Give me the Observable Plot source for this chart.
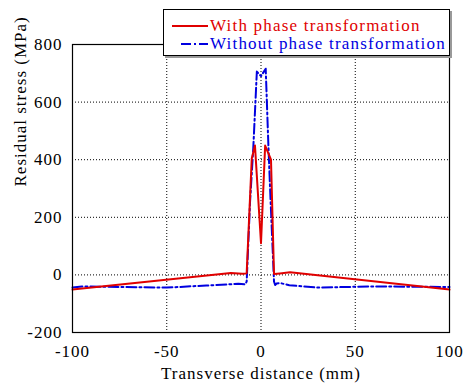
<!DOCTYPE html>
<html>
<head>
<meta charset="utf-8">
<script src="https://cdn.jsdelivr.net/npm/d3@7"></script>
<script src="https://cdn.jsdelivr.net/npm/@observablehq/plot@0.6"></script>
<style>
body { margin: 0; background: #fff; }
#wrap { position: relative; width: 464px; height: 383px; }
#wrap, #wrap * { font-family: "Liberation Serif", serif; }
#chart text { letter-spacing: 1px; }
#chart g[aria-label="xlabel"] text { letter-spacing: 0.9px; }
#chart g[aria-label="ylabel"] text { letter-spacing: 0.2px; }
#legend { position: absolute; left: 163px; top: 9px; width: 287px; height: 47px; background: #fff; border: 1px solid #000; box-shadow: 2px 2px 0 #999; box-sizing: border-box; }
#legend .row { position: absolute; left: 0; height: 20px; font-size: 17px; letter-spacing: 1.2px; white-space: nowrap; }
#legend svg { position: absolute; left: 6px; top: 0; }
#legend span { position: absolute; left: 46px; top: 0; line-height: 20px; }
</style>
</head>
<body>
<div id="wrap">
<div id="chart"></div>
<div id="legend">
  <div class="row" style="top:6px"><svg width="40" height="20"><line x1="2" x2="38" y1="10" y2="10" stroke="#e00000" stroke-width="2"/></svg><span style="color:#e00000">With phase transformation</span></div>
  <div class="row" style="top:24px"><svg width="40" height="20"><line x1="11" x2="38" y1="10" y2="10" stroke="#0000e0" stroke-width="2" stroke-dasharray="10,3,2,3"/></svg><span style="color:#0000e0">Without phase transformation</span></div>
</div>
</div>
<script>
const xTicks = [-100, -50, 0, 50, 100];
const yTicks = [-200, 0, 200, 400, 600, 800];
const gridX = [-50, 0, 50];
const gridY = [0, 200, 400, 600];

const withX = [-100, -16, -10, -8, -7.6, -4.9, -3.2, 0, 2.2, 5.3, 6.9, 10, 15.4, 100];
const withY = [-51, 7, 4, 5, 6, 404, 449, 110, 449, 400, 3, 5, 9, -51];

const withoutX = [-100, -95, -50, -29, -12, -8.5, -7.6, -5.8, -4.1, -2.2, 0, 2.5, 3.9, 5.1, 6.9, 7.5, 8.3, 10, 15, 30, 60, 100];
const withoutY = [-44, -40, -44, -37, -31, -33, -23, 255, 440, 706, 690, 716, 453, 255, -23, -35, -30, -28, -36, -44, -40, -42];

const withData = withX.map((x, i) => ({x, y: withY[i]}));
const withoutData = withoutX.map((x, i) => ({x, y: withoutY[i]}));

const FONT = "Liberation Serif";
const fmt = d => String(d);

const chart = Plot.plot({
  width: 464,
  height: 383,
  marginLeft: 72,
  marginRight: 15,
  marginTop: 44,
  marginBottom: 51,
  style: { fontFamily: FONT, fontSize: "17px", color: "#000", background: "#fff" },
  x: { domain: [-100, 100] },
  y: { domain: [-200, 800] },
  marks: [
    Plot.ruleX(gridX, { stroke: "#000", strokeDasharray: "1,2", strokeWidth: 1 }),
    Plot.ruleY(gridY, { stroke: "#000", strokeDasharray: "1,2", strokeWidth: 1 }),
    Plot.line(withoutData, { x: "x", y: "y", stroke: "#0000e0", strokeWidth: 2, strokeDasharray: "10,3,2,3" }),
    Plot.line(withData, { x: "x", y: "y", stroke: "#e00000", strokeWidth: 2 }),
    Plot.frame({ stroke: "#000", strokeWidth: 1.2 }),
    Plot.axisX({ ticks: xTicks, tickFormat: fmt, tickSize: 0, tickPadding: 12, label: null, fontSize: 17 }),
    Plot.axisY({ ticks: yTicks, tickFormat: fmt, tickSize: 0, tickPadding: 10, label: null, fontSize: 17 }),
    Plot.text(["Transverse distance (mm)"], { frameAnchor: "bottom", dy: 46, fontSize: 17, ariaLabel: "xlabel" }),
    Plot.text(["Residual stress (MPa)"], { frameAnchor: "left", dx: -52, dy: -2, rotate: -90, fontSize: 17, ariaLabel: "ylabel" })
  ]
});
document.getElementById("chart").appendChild(chart);
</script>
</body>
</html>
